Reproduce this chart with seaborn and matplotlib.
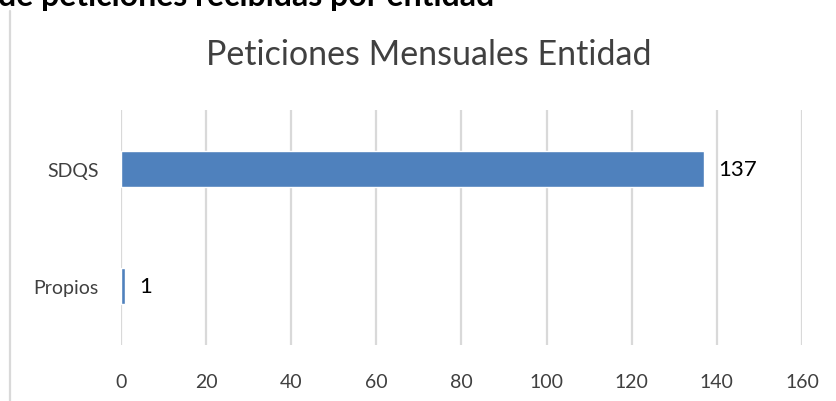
import matplotlib.pyplot as plt
import pandas as pd
import seaborn as sns

# Data
categorias = ["SDQS", "Propios"]
peticiones = [137, 1]
ticks_x = [0, 20, 40, 60, 80, 100, 120, 140, 160]

titulo = "Peticiones Mensuales Entidad"
encabezado = "de peticiones recibidas por entidad"

df = pd.DataFrame({"categoria": categorias, "peticiones": peticiones})

sns.set_style("white")
plt.rcParams['font.family'] = ['Lato', 'DejaVu Sans']

fig = plt.figure(figsize=(8.36, 4.02), dpi=100)
ax = fig.add_axes([0.1447, 0.1393, 0.8146, 0.5846])

sns.barplot(data=df, x="peticiones", y="categoria", orient="h",
            color="#4f81bd", saturation=1, width=0.31, ax=ax)

ax.set_xlim(0, 160)
ax.set_xticks(ticks_x)
ax.set_xticklabels([str(t) for t in ticks_x])
ax.grid(axis='x', color='#d9d9d9', linewidth=1.6)
ax.set_axisbelow(True)
for s in ax.spines.values():
    s.set_visible(False)
ax.tick_params(axis='x', length=0, pad=20, labelsize=14, labelcolor='#404040')
ax.tick_params(axis='y', length=0, pad=16, labelsize=14, labelcolor='#404040')
ax.set_xlabel("")
ax.set_ylabel("")

# data labels
for i, v in enumerate(peticiones):
    ax.annotate(str(v), xy=(v, i), xytext=(10, 0), textcoords='offset points',
                va='center', ha='left', fontsize=16, color='black')

fig.text(0.513, 0.862, titulo, ha='center', va='center', fontsize=24.5, color='#404040')

# header text, cut off at the top edge as in the source
fig.text(-2 / 836, 1 - 6 / 402, encabezado, ha='left', va='baseline',
         fontsize=23, fontweight='bold', color='black')

# left border line
fig.add_artist(plt.Line2D([10 / 836, 10 / 836], [0, 1 - 12 / 402],
                          color='#d9d9d9', linewidth=1.6))

fig.savefig('out.png', dpi=100)
